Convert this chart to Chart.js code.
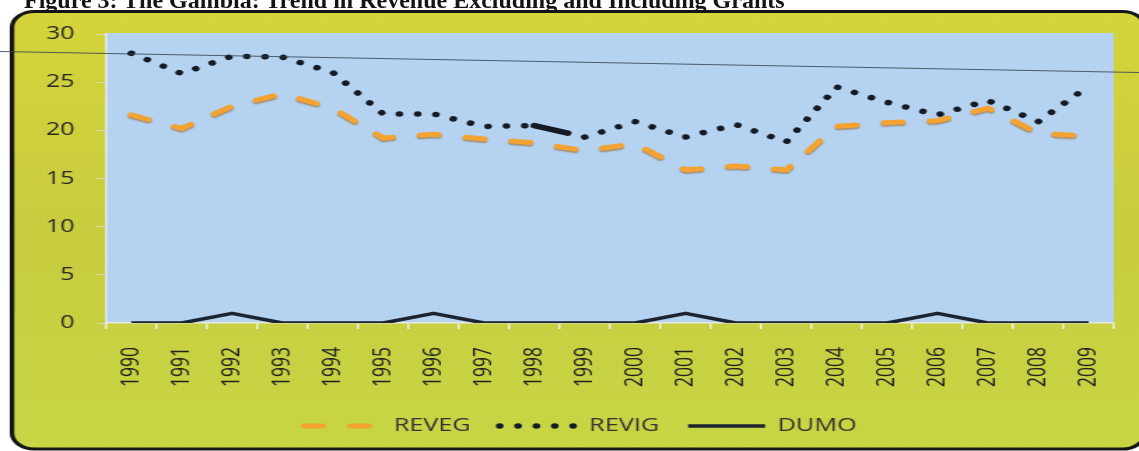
<!DOCTYPE html>
<html><head><meta charset="utf-8">
<script src="https://cdn.jsdelivr.net/npm/chart.js@4/dist/chart.umd.min.js"></script>
<style>
html,body{margin:0;padding:0;background:#fff;overflow:hidden;}
#wrap{position:relative;width:1139px;height:451px;overflow:hidden;}
#c{position:absolute;left:0;top:0;display:block;}
#title{position:absolute;left:24px;top:-12px;font:bold 24px/24px "Liberation Serif","Times New Roman",serif;color:#141414;white-space:nowrap;z-index:2;}
</style></head>
<body><div id="wrap"><canvas id="c" width="814" height="451" style="width:1139px;height:451px;"></canvas><div id="title">Figure 3: The Gambia: Trend in Revenue Excluding and Including Grants</div></div>
<script>
const years = ["1990","1991","1992","1993","1994","1995","1996","1997","1998","1999","2000","2001","2002","2003","2004","2005","2006","2007","2008","2009"];
const reveg = [21.6, 20.2, 22.5, 23.8, 22.3, 19.2, 19.6, 19.1, 18.7, 17.9, 18.6, 15.9, 16.3, 15.9, 20.4, 20.8, 21.0, 22.3, 19.7, 19.4];
const revig = [28.0, 25.9, 27.7, 27.6, 26.0, 21.7, 21.7, 20.4, 20.5, 19.3, 20.9, 19.3, 20.6, 18.8, 24.5, 22.9, 21.6, 23.1, 20.9, 24.6];
const dumo  = [0, 0, 1, 0, 0, 0, 1, 0, 0, 0, 0, 1, 0, 0, 0, 0, 1, 0, 0, 0];
const yMin = 0, yMax = 30, yStep = 5;

const S = 1139 / 814;
const bgPlugin = {
  id: 'bg',
  beforeDraw(chart) {
    const {ctx, chartArea: a} = chart;
    ctx.save();
    const x0 = 12 / S, y0 = 11.5, x1 = 818, y1 = 449;
    const g = ctx.createLinearGradient(0, y0, 0, y1);
    g.addColorStop(0, '#d5d43b');
    g.addColorStop(0.5, '#c8cc3f');
    g.addColorStop(1, '#c7d645');
    ctx.beginPath();
    ctx.roundRect(x0, y0, x1 - x0, y1 - y0, 16);
    ctx.fillStyle = g; ctx.fill();
    ctx.lineWidth = 3.2; ctx.strokeStyle = '#151515'; ctx.stroke();
    ctx.fillStyle = '#b5d3f0';
    ctx.fillRect(a.left, a.top - 1, a.right - a.left, a.bottom - a.top + 1);
    ctx.restore();
  },
  afterDraw(chart) {
    const ctx = chart.ctx;
    ctx.save();
    ctx.strokeStyle = 'rgba(50,60,75,0.8)'; ctx.lineWidth = 1;
    ctx.beginPath(); ctx.moveTo(0, 51.5); ctx.lineTo(chart.width, 72.5); ctx.stroke();
    ctx.restore();
  }
};
const shadowPlugin = {
  id: 'shadow',
  beforeDatasetDraw(chart, args) {
    if (args.index === 0) { const c = chart.ctx; c.save(); c.shadowColor = 'rgba(140,80,10,0.55)'; c.shadowOffsetY = 1.5; c.shadowBlur = 1.5; }
  },
  afterDatasetDraw(chart, args) { if (args.index === 0) chart.ctx.restore(); }
};

new Chart(document.getElementById('c'), {
  type: 'line',
  data: {
    labels: years,
    datasets: [
      {label: 'REVEG', data: reveg, borderColor: '#f4a332', backgroundColor: '#f4a332', borderWidth: 5, borderDash: [13, 20], borderCapStyle: 'round', pointRadius: 0, tension: 0, fill: false},
      {label: 'REVIG', data: revig, borderColor: '#151b26', backgroundColor: '#151b26', borderWidth: 5.5, borderDash: [0.01, 13.1], borderCapStyle: 'round', pointRadius: 0, tension: 0, fill: false,
        segment: {borderDash: c => c.p0DataIndex === 8 ? [25, 100] : undefined}},
      {label: 'DUMO', data: dumo, borderColor: '#1b2230', backgroundColor: '#1b2230', borderWidth: 3.5, borderJoinStyle: 'round', pointRadius: 0, tension: 0, fill: false}
    ]
  },
  options: {
    responsive: false, animation: false, devicePixelRatio: 1,
    layout: {padding: {left: 33.6, right: 18, top: 34, bottom: 6}},
    plugins: {
      legend: {position: 'bottom', labels: {
        usePointStyle: true, pointStyle: 'line', pointStyleWidth: 55, padding: 20.7, color: '#333', font: {family: 'Open Sans', size: 18},
        generateLabels(chart) {
          const items = Chart.defaults.plugins.legend.labels.generateLabels(chart);
          items.forEach(it => {
            const ds = chart.data.datasets[it.datasetIndex];
            it.lineDash = ds.borderDash || [];
            it.lineCap = ds.borderCapStyle || 'butt';
            it.lineWidth = ds.borderWidth;
            it.strokeStyle = ds.borderColor;
            it.pointStyle = 'line';
          });
          return items;
        }
      }},
      tooltip: {enabled: false}
    },
    scales: {
      x: {
        offset: true,
        grid: {offset: true, drawOnChartArea: false, drawTicks: true, tickLength: 6, color: '#eef0e0', lineWidth: 1.5},
        border: {color: '#e6e9e0', width: 1.5},
        ticks: {autoSkip: false, maxRotation: 90, minRotation: 90, padding: 18, color: '#222', font: {family: 'Open Sans', size: 17.5}},
        afterFit(s) { s.height = 73.3; s.paddingLeft = 0; s.paddingRight = 0; }
      },
      y: {
        min: yMin, max: yMax,
        ticks: {stepSize: yStep, padding: 16, color: '#262626', font: {family: 'Open Sans', size: 18}},
        grid: {drawOnChartArea: false, tickLength: 6.4, color: '#d8dac8'},
        border: {color: '#e6e9e0', width: 1.5},
        afterFit(s) { s.width = 75.8 - 33.6; }
      }
    }
  },
  plugins: [bgPlugin, shadowPlugin]
});
</script>
</body></html>
